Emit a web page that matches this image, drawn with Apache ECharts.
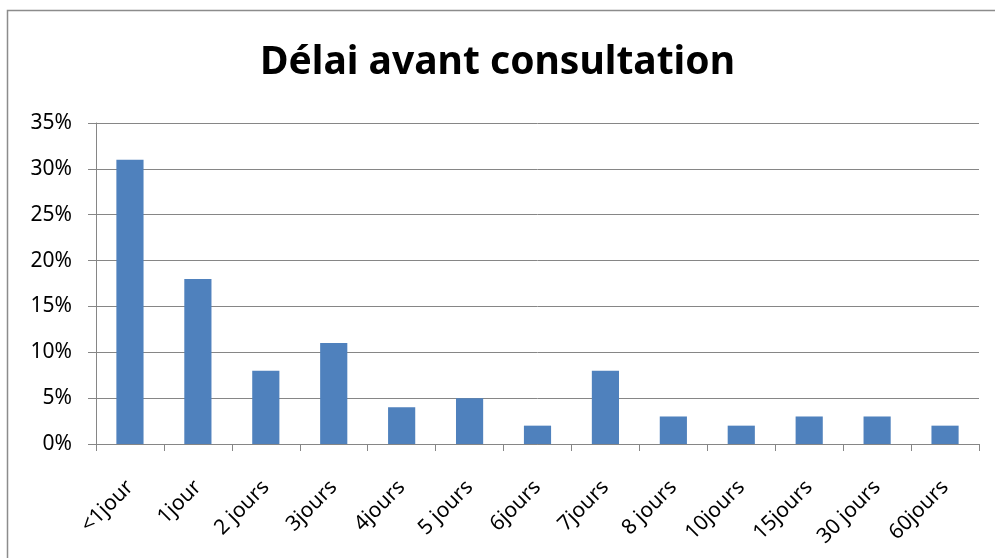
<!DOCTYPE html>
<html>
<head>
<meta charset="utf-8">
<script src="https://cdn.jsdelivr.net/npm/echarts@6/dist/echarts.min.js"></script>
<style>
  html, body { margin: 0; padding: 0; background: #fff; }
  #main { width: 995px; height: 558px; }
</style>
</head>
<body>
<div id="main"></div>
<script>
const categories = ['<1jour', '1jour', '2 jours', '3jours', '4jours', '5 jours', '6jours',
    '7jours', '8 jours', '10jours', '15jours', '30 jours', '60jours'];
const percents = [31, 18, 8, 11, 4, 5, 2, 8, 3, 2, 3, 3, 2];
const yTicks = [0, 5, 10, 15, 20, 25, 30, 35];

const chart = echarts.init(document.getElementById('main'));

const option = {
    backgroundColor: '#fff',
    animation: false,
    textStyle: {fontFamily: 'Noto Sans'},
    graphic: [{
        type: 'rect',
        shape: {x: 7.5, y: 10.5, width: 992, height: 560},
        style: {fill: 'none', stroke: '#8c8c8c', lineWidth: 1.5},
        silent: true
    }],
    title: {
        text: 'Délai avant consultation',
        left: 'center',
        top: 38,
        textStyle: {fontFamily: 'Noto Sans', fontWeight: 'bold', fontSize: 39, color: '#000'}
    },
    grid: {left: 96, right: 16, top: 123, bottom: 114, containLabel: false},
    xAxis: {
        type: 'category',
        data: categories,
        axisLine: {lineStyle: {color: '#868686', width: 1}},
        axisTick: {show: true, alignWithLabel: false, length: 7, lineStyle: {color: '#868686'}},
        axisLabel: {rotate: 45, fontSize: 21, color: '#000', margin: 40, interval: 0}
    },
    yAxis: {
        type: 'value',
        min: 0,
        max: yTicks[yTicks.length - 1],
        interval: 5,
        axisLine: {show: true, lineStyle: {color: '#868686'}},
        axisTick: {show: true, inside: false, length: 8, lineStyle: {color: '#868686'}},
        splitLine: {lineStyle: {color: '#868686', width: 1}},
        axisLabel: {fontSize: 21, color: '#000', margin: 24, formatter: '{value}%'}
    },
    series: [{
        type: 'bar',
        data: percents,
        barCategoryGap: '60%',
        itemStyle: {color: '#4F81BD'}
    }]
};

chart.setOption(option);
</script>
</body>
</html>
